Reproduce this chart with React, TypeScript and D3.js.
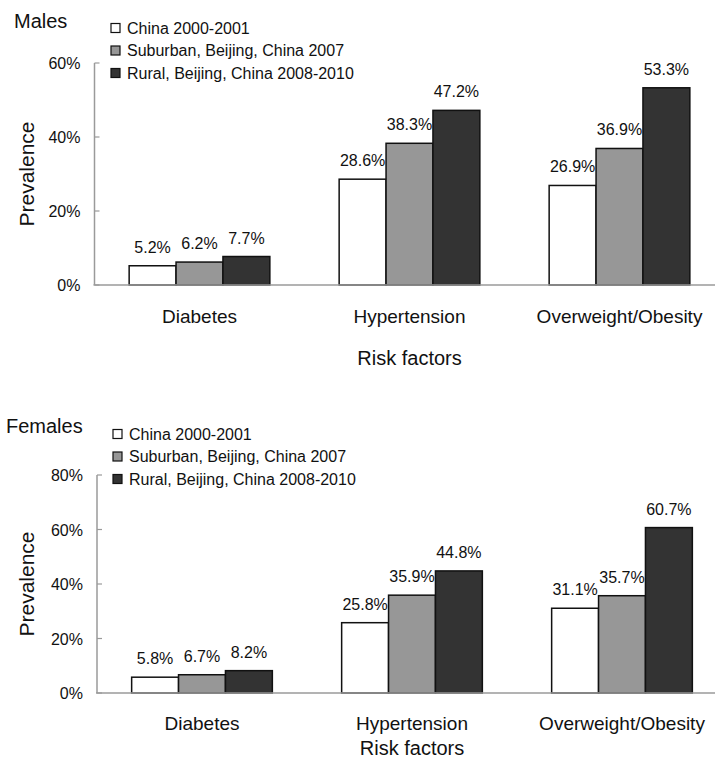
import * as d3 from 'd3';

const CATEGORIES = ['Diabetes', 'Hypertension', 'Overweight/Obesity'];
const SERIES = ['China 2000-2001', 'Suburban, Beijing, China 2007', 'Rural, Beijing, China 2008-2010'];
const SERIES_COLORS = ['#ffffff', '#979797', '#333333'];

// values in %, one row per series, one column per category
const MALES = [
  [5.2, 28.6, 26.9],
  [6.2, 38.3, 36.9],
  [7.7, 47.2, 53.3],
];
const FEMALES = [
  [5.8, 25.8, 31.1],
  [6.7, 35.9, 35.7],
  [8.2, 44.8, 60.7],
];
const MALE_TICKS = [0, 20, 40, 60];
const FEMALE_TICKS = [0, 20, 40, 60, 80];

const FONT = '"Liberation Sans", Arial, sans-serif';
const AXIS_COLOR = '#9a9a9a';

type PanelProps = {
  title: string;
  values: number[][];
  ticks: number[];
  left: number;
  top: number;
  bottom: number;
  titleX: number;
  titleY: number;
  legendX: number;
  legendY: number;
  catDy: number;
  riskDy: number;
};

function Panel(p: PanelProps) {
  const yMax = p.ticks[p.ticks.length - 1];
  const y = d3.scaleLinear().domain([0, yMax]).range([p.bottom, p.top]);
  const x = d3.scaleBand<string>()
    .domain(CATEGORIES)
    .range([p.left, p.left + 630])
    .paddingInner(0.33)
    .paddingOuter(0.165);
  const xs = d3.scaleBand<number>()
    .domain(d3.range(SERIES.length))
    .range([0, x.bandwidth()]);

  return (
    <g fontFamily={FONT} fill="#111">
      <text x={p.titleX} y={p.titleY} fontSize={20}>{p.title}</text>

      {/* y axis */}
      <line x1={p.left} x2={p.left} y1={y(yMax)} y2={p.bottom} stroke={AXIS_COLOR} strokeWidth={1.5} />
      {p.ticks.map(t => (
        <g key={t}>
          <line x1={p.left} x2={p.left + 5} y1={y(t)} y2={y(t)} stroke={AXIS_COLOR} strokeWidth={1.2} />
          <text x={p.left - 14} y={y(t) + 6} fontSize={16} textAnchor="end">{t}%</text>
        </g>
      ))}
      <text
        transform={`translate(${34},${(p.top + p.bottom) / 2}) rotate(-90)`}
        fontSize={21}
        textAnchor="middle"
      >
        Prevalence
      </text>

      {/* bars */}
      {CATEGORIES.map((c, ci) => (
        <g key={c} transform={`translate(${x(c)},0)`}>
          {p.values.map((row, si) => {
            const v = row[ci];
            const bx = xs(si)!;
            return (
              <g key={si}>
                <rect
                  x={bx}
                  y={y(v)}
                  width={xs.bandwidth()}
                  height={p.bottom - y(v)}
                  fill={SERIES_COLORS[si]}
                  stroke="#111"
                  strokeWidth={1.5}
                />
                <text x={bx + xs.bandwidth() / 2} y={y(v) - 13} fontSize={16} textAnchor="middle">
                  {v.toFixed(1)}%
                </text>
              </g>
            );
          })}
          <text x={x.bandwidth() / 2} y={p.bottom + p.catDy} fontSize={19} textAnchor="middle">{c}</text>
        </g>
      ))}

      {/* x axis */}
      <line x1={p.left - 1} x2={715} y1={p.bottom} y2={p.bottom} stroke={AXIS_COLOR} strokeWidth={1.5} />
      <text x={x('Hypertension')! + x.bandwidth() / 2} y={p.bottom + p.riskDy} fontSize={20} textAnchor="middle">
        Risk factors
      </text>

      {/* legend */}
      {SERIES.map((s, i) => (
        <g key={s} transform={`translate(${p.legendX},${p.legendY + i * 22.5})`}>
          <rect x={0} y={-4.5} width={9} height={9} fill={SERIES_COLORS[i]} stroke="#111" strokeWidth={1.2} />
          <text x={16} y={5.5} fontSize={16}>{s}</text>
        </g>
      ))}
    </g>
  );
}

export default function App() {
  return (
    <div style={{ position: 'absolute', left: 0, top: 0, width: 715, height: 767, background: '#fff' }}>
      <svg width={715} height={767}>
        <rect width={715} height={767} fill="#fff" />
        <Panel
          title="Males" values={MALES} ticks={MALE_TICKS}
          left={94.5} top={63} bottom={285}
          titleX={14} titleY={28}
          legendX={111} legendY={28}
          catDy={38} riskDy={80}
        />
        <Panel
          title="Females" values={FEMALES} ticks={FEMALE_TICKS}
          left={97} top={475} bottom={693}
          titleX={6} titleY={433}
          legendX={113} legendY={434}
          catDy={37} riskDy={62}
        />
      </svg>
    </div>
  );
}
